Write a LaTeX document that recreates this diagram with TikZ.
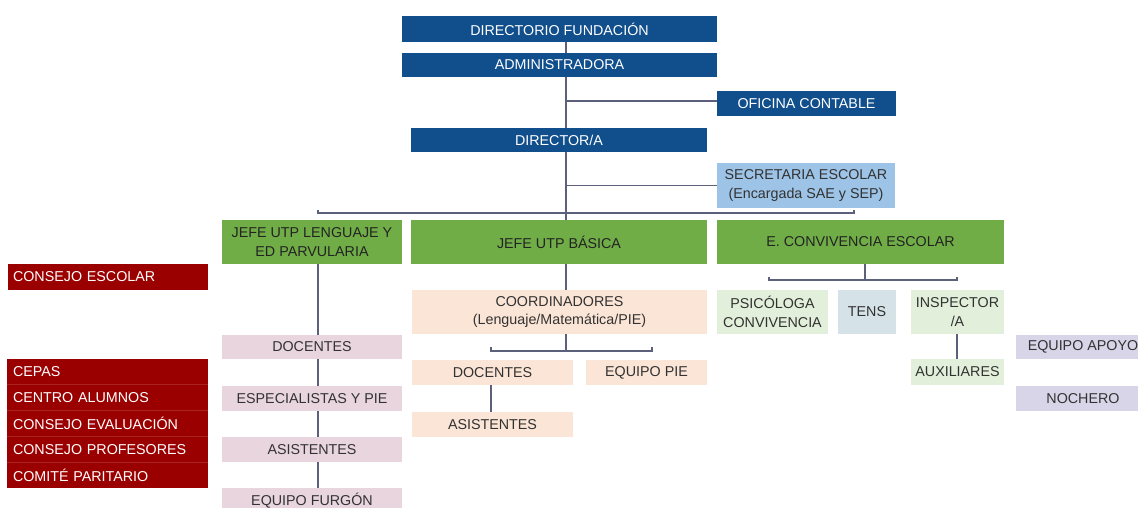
\documentclass[tikz,border=0pt]{standalone}
\usepackage{fontspec}
\setmainfont{Liberation Sans}
\begin{document}
\begin{tikzpicture}[x=1pt,y=-1pt]
\definecolor{dblue}{RGB}{16,78,140}
\definecolor{lblue}{RGB}{157,195,230}
\definecolor{gbox}{RGB}{112,173,71}
\definecolor{pinkb}{RGB}{233,213,222}
\definecolor{orangeb}{RGB}{251,229,214}
\definecolor{lgreen}{RGB}{226,239,218}
\definecolor{tensb}{RGB}{213,226,232}
\definecolor{lavb}{RGB}{217,213,232}
\definecolor{redb}{RGB}{155,0,0}
\definecolor{redsep}{RGB}{170,35,35}
\definecolor{txtg}{RGB}{50,50,50}
\definecolor{linec}{RGB}{92,96,122}
\tikzset{
  bx/.style={rectangle, inner sep=0pt, outer sep=0pt, anchor=north west, align=center,
    font=\fontsize{14.3}{18.5}\selectfont, text=txtg},
  dbluebox/.style={bx, fill=dblue, text=white},
  lbluebox/.style={bx, fill=lblue},
  greenbox/.style={bx, fill=gbox, text={rgb,255:red,35;green,35;blue,35}},
  pinkbox/.style={bx, fill=pinkb},
  orangebox/.style={bx, fill=orangeb},
  lgreenbox/.style={bx, fill=lgreen},
  tensbox/.style={bx, fill=tensb},
  lavbox/.style={bx, fill=lavb},
  redbox/.style={bx, fill=redb, text=white, align=left, inner xsep=6pt, text width=189pt},
  conn/.style={draw=linec, line width=1.3pt},
  redline/.style={draw=redsep, line width=0.7pt}
}
\useasboundingbox (0,0) rectangle (1138,508);
% top blue chain
\node[dbluebox, minimum width=315, minimum height=26] (dirf) at (402,16) {DIRECTORIO FUNDACIÓN};
\node[dbluebox, minimum width=315, minimum height=24] (admin) at (402,53) {ADMINISTRADORA};
\node[dbluebox, minimum width=179, minimum height=25] (ofic) at (717,91) {OFICINA CONTABLE};
\node[dbluebox, minimum width=296, minimum height=24] (dir) at (411,128) {DIRECTOR/A};
\node[lbluebox, minimum width=178, minimum height=45] (secr) at (717,163) {SECRETARIA ESCOLAR\\(Encargada SAE y SEP)};
% green row
\node[greenbox, minimum width=180, minimum height=44] (jl) at (222,220) {JEFE UTP LENGUAJE Y\\ED PARVULARIA};
\node[greenbox, minimum width=296, minimum height=44] (jb) at (411,220) {JEFE UTP BÁSICA};
\node[greenbox, minimum width=287, minimum height=44] (ec) at (717,220) {E. CONVIVENCIA ESCOLAR};
% left column (pink)
\node[pinkbox, minimum width=180, minimum height=24] (docl) at (222,335) {DOCENTES};
\node[pinkbox, minimum width=180, minimum height=25] (espl) at (222,386) {ESPECIALISTAS Y PIE};
\node[pinkbox, minimum width=180, minimum height=25] (asil) at (222,437) {ASISTENTES};
\node[pinkbox, minimum width=180, minimum height=25] (furg) at (222,488) {EQUIPO FURGÓN};
% middle column (orange)
\node[orangebox, minimum width=295, minimum height=44] (coord) at (412,290) {COORDINADORES\\(Lenguaje/Matemática/PIE)};
\node[orangebox, minimum width=161, minimum height=25] (docb) at (412,360) {DOCENTES};
\node[orangebox, minimum width=121, minimum height=25] (pie) at (586,360) {EQUIPO PIE};
\node[orangebox, minimum width=161, minimum height=25] (asib) at (412,412) {ASISTENTES};
% right column
\node[lgreenbox, minimum width=111, minimum height=44] (psic) at (717,290) {PSICÓLOGA\\CONVIVENCIA};
\node[tensbox, minimum width=58, minimum height=44] (tens) at (838,290) {TENS};
\node[lgreenbox, minimum width=93, minimum height=44] (insp) at (911,290) {INSPECTOR\\/A};
\node[lgreenbox, minimum width=93, minimum height=26] (aux) at (911,359) {AUXILIARES};
\node[lavbox, minimum width=134, minimum height=24] (apoyo) at (1016,335) {EQUIPO APOYO};
\node[lavbox, minimum width=134, minimum height=25] (noch) at (1016,386) {NOCHERO};
% red items
\node[redbox, inner xsep=5pt, text width=190pt, minimum height=26] (cesc) at (8,264) {CONSEJO ESCOLAR};
\node[redbox, minimum height=25.8] (cepas) at (7,359) {CEPAS};
\node[redbox, minimum height=25.8] (calum) at (7,384.8) {CENTRO ALUMNOS};
\node[redbox, minimum height=25.8] (ceval) at (7,410.6) {CONSEJO EVALUACIÓN};
\node[redbox, minimum height=25.8] (cprof) at (7,436.4) {CONSEJO PROFESORES};
\node[redbox, minimum height=25.8] (comite) at (7,462.2) {COMITÉ PARITARIO};
\draw[redline] (cepas.south west) -- (cepas.south east);
\draw[redline] (calum.south west) -- (calum.south east);
\draw[redline] (ceval.south west) -- (ceval.south east);
\draw[redline] (cprof.south west) -- (cprof.south east);
% connector helper coordinates
\coordinate (tx) at (566,0);
\coordinate (lx) at (318,0);
\coordinate (busL) at (318,213);
\coordinate (busR) at (854,213);
\coordinate (cbL) at (491,351);
\coordinate (cbR) at (652,351);
\coordinate (ebL) at (769,280);
\coordinate (ebR) at (957,280);
% connectors
\draw[conn] (dirf.south -| tx) -- (admin.north -| tx);
\draw[conn] (admin.south -| tx) -- (dir.north -| tx);
\draw[conn] (ofic.west |- 0,101) -- (tx |- 0,101);
\draw[conn] (dir.south -| tx) -- (busL -| tx);
\draw[conn] (secr.west) -- (secr.west -| tx);
\draw[conn] ([yshift=3]busL) -- (busL) -- (busR) -- ([yshift=3]busR);
\draw[conn] (busL -| tx) -- (jb.north -| tx);
% left column
\draw[conn] (jl.south -| lx) -- (docl.north -| lx);
\draw[conn] (docl.south -| lx) -- (espl.north -| lx);
\draw[conn] (espl.south -| lx) -- (asil.north -| lx);
\draw[conn] (asil.south -| lx) -- (furg.north -| lx);
% middle
\draw[conn] (jb.south -| tx) -- (coord.north -| tx);
\draw[conn] (coord.south -| tx) -- (cbL -| tx);
\draw[conn] ([yshift=4]cbL) -- (cbL) -- (cbR) -- ([yshift=4]cbR);
\draw[conn] (docb.south -| cbL) -- (asib.north -| cbL);
% right
\draw[conn] (ec.south -| 865,0) -- (865,280);
\draw[conn] ([yshift=3]ebL) -- (ebL) -- (ebR) -- ([yshift=3]ebR);
\draw[conn] (insp.south -| ebR) -- (aux.north -| ebR);
\end{tikzpicture}
\end{document}
